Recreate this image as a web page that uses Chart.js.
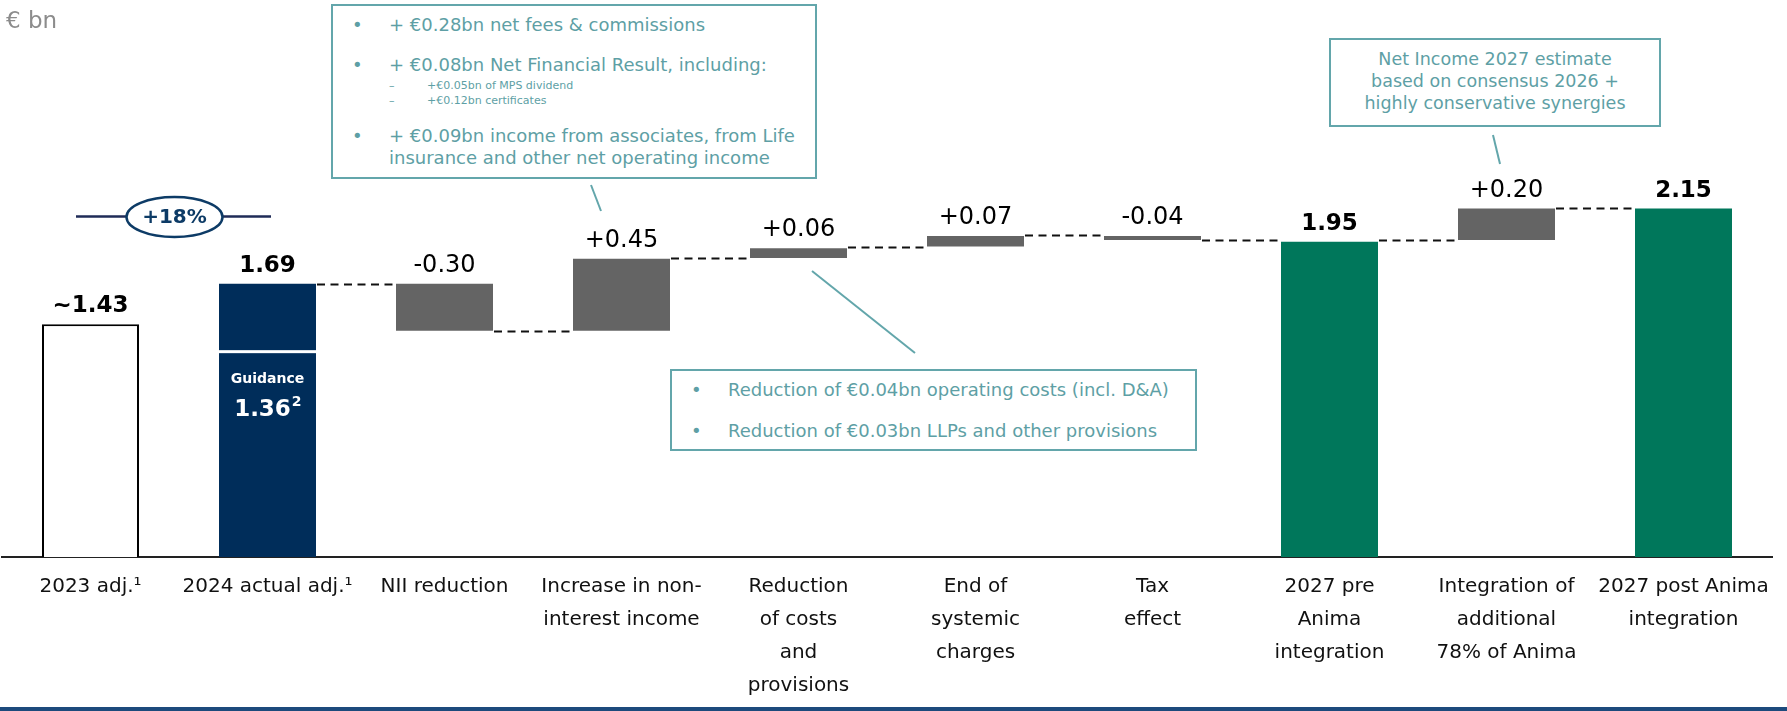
<!DOCTYPE html>
<html>
<head>
<meta charset="utf-8">
<script src="https://cdn.jsdelivr.net/npm/chart.js@4.4.1/dist/chart.umd.min.js"></script>
<style>
  body { margin: 0; background: #fff; }
  #wrap { position: relative; width: 1787px; height: 711px; overflow: hidden; font-family: "DejaVu Sans", sans-serif; }
  #wrap canvas { position: absolute; left: 0; top: 0; }
  .unit { position: absolute; left: 6px; top: 5px; font-size: 23px; line-height: 30px; color: #8c8c8c; }
  .box { position: absolute; border: 2px solid #63a6ab; box-sizing: border-box; background: #fff; }
  .ln { position: absolute; color: #5e9fa5; white-space: nowrap; font-size: 18px; height: 22px; line-height: 22px; }
  .sm { font-size: 11px; height: 14px; line-height: 14px; }
  .ctr { text-align: center; font-size: 17.5px; }
</style>
</head>
<body>
<div id="wrap">
  <canvas id="myChart"></canvas>
  <div class="unit">€ bn</div>

  <div class="box" style="left:331px; top:4px; width:486px; height:175px;"></div>
  <div class="ln" style="left:352px; top:14px;">•</div>
  <div class="ln" style="left:389px; top:14px;">+ €0.28bn net fees &amp; commissions</div>
  <div class="ln" style="left:352px; top:54px;">•</div>
  <div class="ln" style="left:389px; top:54px;">+ €0.08bn Net Financial Result, including:</div>
  <div class="ln sm" style="left:389px; top:79px;">–</div>
  <div class="ln sm" style="left:427px; top:79px;">+€0.05bn of MPS dividend</div>
  <div class="ln sm" style="left:389px; top:94px;">–</div>
  <div class="ln sm" style="left:427px; top:94px;">+€0.12bn certificates</div>
  <div class="ln" style="left:352px; top:125px;">•</div>
  <div class="ln" style="left:389px; top:125px;">+ €0.09bn income from associates, from Life</div>
  <div class="ln" style="left:389px; top:147px;">insurance and other net operating income</div>

  <div class="box" style="left:670px; top:369px; width:527px; height:82px;"></div>
  <div class="ln" style="left:691px; top:379px;">•</div>
  <div class="ln" style="left:728px; top:379px;">Reduction of €0.04bn operating costs (incl. D&amp;A)</div>
  <div class="ln" style="left:691px; top:420px;">•</div>
  <div class="ln" style="left:728px; top:420px;">Reduction of €0.03bn LLPs and other provisions</div>

  <div class="box" style="left:1329px; top:38px; width:332px; height:89px;"></div>
  <div class="ln ctr" style="left:1329px; width:332px; top:48px;">Net Income 2027 estimate</div>
  <div class="ln ctr" style="left:1329px; width:332px; top:70px;">based on consensus 2026 +</div>
  <div class="ln ctr" style="left:1329px; width:332px; top:92px;">highly conservative synergies</div>
</div>
<script>
const categories = [
  ["2023 adj.¹"],
  ["2024 actual adj.¹"],
  ["NII reduction"],
  ["Increase in non-", "interest income"],
  ["Reduction", "of costs", "and", "provisions"],
  ["End of", "systemic", "charges"],
  ["Tax", "effect"],
  ["2027 pre", "Anima", "integration"],
  ["Integration of", "additional", "78% of Anima"],
  ["2027 post Anima", "integration"],
];
// floating bars: bottom and top of each bar, € bn
const barStart = [0, 0, 1.40, 1.40, 1.85, 1.92, 1.96, 0, 1.96, 0];
const barEnd = [1.44, 1.69, 1.69, 1.845, 1.91, 1.985, 1.985, 1.95, 2.155, 2.155];
const valueLabels = ["~1.43", "1.69", "-0.30", "+0.45", "+0.06", "+0.07", "-0.04", "1.95", "+0.20", "2.15"];
const isTotal = [true, true, false, false, false, false, false, true, false, true];
// dashed connector level after each bar (null = none)
const connectorLevels = [null, 1.69, 1.40, 1.85, 1.915, 1.99, 1.96, 1.96, 2.16];
const guidanceValue = 1.27;

const navy = "#002d5a";
const grey = "#646464";
const green = "#00775b";
const teal = "#63a6ab";
const fontFamily = '"DejaVu Sans", sans-serif';

const barColors = ["#ffffff", navy, grey, grey, grey, grey, grey, green, grey, green];
const barBorders = [2, 0, 0, 0, 0, 0, 0, 0, 0, 0];

const waterfallExtras = {
  id: "waterfallExtras",
  afterDatasetsDraw(chart) {
    const ctx = chart.ctx;
    const y = chart.scales.y;
    const bars = chart.getDatasetMeta(0).data;
    ctx.save();

    // connectors
    ctx.strokeStyle = "#111";
    ctx.lineWidth = 2;
    ctx.setLineDash([8, 5.5]);
    connectorLevels.forEach((lvl, i) => {
      if (lvl === null) return;
      const a = bars[i], b = bars[i + 1];
      const py = Math.round(y.getPixelForValue(lvl)) + 0.5;
      ctx.beginPath();
      ctx.moveTo(a.x + a.width / 2 + 1, py);
      ctx.lineTo(b.x - b.width / 2 - 1, py);
      ctx.stroke();
    });
    ctx.setLineDash([]);

    // value labels
    ctx.textAlign = "center";
    ctx.textBaseline = "alphabetic";
    bars.forEach((el, i) => {
      const top = Math.min(el.y, el.base);
      ctx.fillStyle = "#000";
      ctx.font = isTotal[i] ? "bold 23px " + fontFamily : "24px " + fontFamily;
      ctx.fillText(valueLabels[i], el.x, top - 12);
    });

    // guidance split inside the 2024 bar
    const g = bars[1];
    const gy = y.getPixelForValue(guidanceValue);
    ctx.fillStyle = "#fff";
    ctx.fillRect(g.x - g.width / 2, gy - 1.5, g.width, 3);
    ctx.font = "bold 14px " + fontFamily;
    ctx.fillText("Guidance", g.x, gy + 31);
    ctx.font = "bold 23px " + fontFamily;
    const w = ctx.measureText("1.36").width;
    ctx.fillText("1.36", g.x - 5, gy + 64);
    ctx.font = "bold 14px " + fontFamily;
    ctx.textAlign = "left";
    ctx.fillText("2", g.x - 5 + w / 2 + 1, gy + 54);

    // +18% marker
    ctx.strokeStyle = "#1f2b57";
    ctx.lineWidth = 2.5;
    ctx.beginPath();
    ctx.moveTo(76, 216.5);
    ctx.lineTo(271, 216.5);
    ctx.stroke();
    ctx.beginPath();
    ctx.ellipse(174.5, 217, 48, 20, 0, 0, Math.PI * 2);
    ctx.fillStyle = "#fff";
    ctx.fill();
    ctx.strokeStyle = "#0d3b66";
    ctx.stroke();
    ctx.fillStyle = "#0d3b66";
    ctx.textAlign = "center";
    ctx.textBaseline = "middle";
    ctx.font = "bold 20px " + fontFamily;
    ctx.fillText("+18%", 174.5, 218);

    // callout pointers
    ctx.strokeStyle = teal;
    ctx.lineWidth = 2;
    [[591, 185, 601, 211], [812, 271, 915, 353], [1493, 135, 1500, 164]].forEach((p) => {
      ctx.beginPath();
      ctx.moveTo(p[0], p[1]);
      ctx.lineTo(p[2], p[3]);
      ctx.stroke();
    });

    // bottom rule
    ctx.fillStyle = "#1d4a7c";
    ctx.fillRect(0, 707, chart.width, 4);
    ctx.restore();
  },
};

let ctx = document.getElementById("myChart");

let lineChart = new Chart(ctx, {
  type: "bar",
  data: {
    labels: categories,
    datasets: [
      {
        data: categories.map((c, i) => [barStart[i], barEnd[i]]),
        backgroundColor: barColors,
        borderColor: "#000",
        borderWidth: barBorders,
        borderSkipped: "start",
        barPercentage: 0.548,
        categoryPercentage: 1,
      },
    ],
  },
  options: {
    responsive: true,
    maintainAspectRatio: false,
    animation: false,
    layout: { padding: { left: 2, right: 15, top: 0, bottom: 0 } },
    plugins: { legend: { display: false }, tooltip: { enabled: false } },
    scales: {
      x: {
        grid: { display: false, drawTicks: false },
        border: { display: true, color: "#222", width: 2 },
        ticks: {
          color: "#111",
          font: { family: fontFamily, size: 20, lineHeight: 1.66 },
          padding: 13,
          maxRotation: 0,
          autoSkip: false,
        },
        afterFit: (scale) => {
          scale.height = 154;
        },
      },
      y: { display: false, min: 0, max: 3.445 },
    },
  },
  plugins: [waterfallExtras],
});
</script>
</body>
</html>
